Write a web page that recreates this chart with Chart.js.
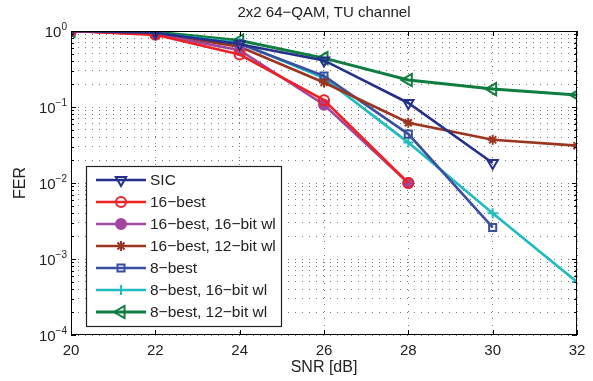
<!DOCTYPE html>
<html lang="en">
<head>
    <meta charset="UTF-8">
    <title>2x2 64-QAM, TU channel</title>
    <script src="https://cdn.jsdelivr.net/npm/chart.js"></script>
    <style>
        html, body {
            margin: 0;
            padding: 0;
            background: #fff;
        }
        #wrap {
            width: 593px;
            height: 381px;
        }
    </style>
</head>
<body>
    <div id="wrap"><canvas id="ferChart" width="593" height="381"></canvas></div>

    <script>
        // SNR points (dB) and x tick labels
        const snr = [20, 22, 24, 26, 28, 30, 32];
        const xTicks = [20, 22, 24, 26, 28, 30, 32];
        // decades shown on the FER axis (10^e)
        const yTickExps = [-4, -3, -2, -1, 0];

        // FER values, null = no point
        const sic        = [1, 0.95, 0.67, 0.41, 0.113, 0.0183, null];
        const best16     = [1, 0.89, 0.49, 0.123, 0.01, null, null];
        const best16wl16 = [1, 0.91, 0.56, 0.107, 0.01, null, null];
        const best16wl12 = [1, 0.92, 0.62, 0.21, 0.062, 0.037, 0.031];
        const best8      = [1, 0.93, 0.68, 0.256, 0.044, 0.0026, null];
        const best8wl16  = [1, 0.94, 0.70, 0.24, 0.034, 0.004, 0.0005];
        const best8wl12  = [1, 0.97, 0.75, 0.44, 0.227, 0.172, 0.144];

        const seriesNames = ['SIC', '16\u2212best', '16\u2212best, 16\u2212bit wl', '16\u2212best, 12\u2212bit wl',
                             '8\u2212best', '8\u2212best, 16\u2212bit wl', '8\u2212best, 12\u2212bit wl'];
        const seriesValues = [sic, best16, best16wl16, best16wl12, best8, best8wl16, best8wl12];

        const styles = [
            { color: '#23318a', pointStyle: 'triangle', rotation: 180, radius: 6, fill: false },
            { color: '#ee2124', pointStyle: 'circle', rotation: 0, radius: 5, fill: false },
            { color: '#a0479e', pointStyle: 'circle', rotation: 0, radius: 5, fill: true },
            { color: '#9a3520', pointStyle: 'star', rotation: 0, radius: 5, fill: false },
            { color: '#3a4f9f', pointStyle: 'rect', rotation: 0, radius: 5, fill: false },
            { color: '#1fbcbf', pointStyle: 'cross', rotation: 0, radius: 5, fill: false },
            { color: '#0e7d3f', pointStyle: 'triangle', rotation: 270, radius: 7, fill: false }
        ];

        function toPoints(values) {
            const pts = [];
            values.forEach(function(v, i) {
                if (v !== null) pts.push({ x: snr[i], y: v });
            });
            return pts;
        }

        const datasets = seriesNames.map(function(name, i) {
            const s = styles[i];
            return {
                label: name,
                data: toPoints(seriesValues[i]),
                borderColor: s.color,
                backgroundColor: s.fill ? s.color : 'rgba(255,255,255,0)',
                borderWidth: i === 6 ? 3 : 2.6,
                pointStyle: s.pointStyle,
                pointRotation: s.rotation,
                pointRadius: s.radius,
                pointBorderWidth: 2,
                pointBorderColor: s.color,
                pointBackgroundColor: s.fill ? s.color : 'rgba(255,255,255,0)',
                tension: 0
            };
        });

        const FONT = '"Liberation Sans", Arial, sans-serif';

        // frame, inward ticks, y labels, titles and the legend inside the plot
        const decorPlugin = {
            id: 'decor',
            afterDraw: function(chart) {
                const ctx = chart.ctx;
                const a = chart.chartArea;
                const xs = chart.scales.x;
                const ys = chart.scales.y;
                ctx.save();

                // box
                ctx.strokeStyle = '#000';
                ctx.lineWidth = 1;
                ctx.setLineDash([]);
                ctx.strokeRect(a.left + 0.5, a.top + 0.5, a.right - a.left - 1, a.bottom - a.top - 1);

                // x ticks (inward, bottom and top)
                ctx.beginPath();
                xTicks.forEach(function(t) {
                    const px = Math.round(xs.getPixelForValue(t)) + 0.5;
                    ctx.moveTo(px, a.bottom); ctx.lineTo(px, a.bottom - 5);
                    ctx.moveTo(px, a.top); ctx.lineTo(px, a.top + 5);
                });
                // y ticks: major 5px, minor 3px, left and right
                yTickExps.forEach(function(e) {
                    for (let m = 1; m <= 9; m++) {
                        if (e === 0 && m > 1) break;
                        const py = Math.round(ys.getPixelForValue(m * Math.pow(10, e))) + 0.5;
                        const len = m === 1 ? 5 : 3;
                        ctx.moveTo(a.left, py); ctx.lineTo(a.left + len, py);
                        ctx.moveTo(a.right, py); ctx.lineTo(a.right - len, py);
                    }
                });
                ctx.stroke();

                // y tick labels 10^e
                ctx.fillStyle = '#222';
                yTickExps.forEach(function(e) {
                    const py = ys.getPixelForValue(Math.pow(10, e));
                    const expText = e < 0 ? '\u2212' + (-e) : String(e);
                    ctx.font = '10px ' + FONT;
                    const ew = ctx.measureText(expText).width;
                    ctx.textAlign = 'left';
                    ctx.textBaseline = 'alphabetic';
                    const right = a.left - 4;
                    ctx.fillText(expText, right - ew, py - 1);
                    ctx.font = '15px ' + FONT;
                    ctx.textAlign = 'right';
                    ctx.fillText('10', right - ew, py + 6);
                });

                // titles
                ctx.fillStyle = '#222';
                ctx.font = '15px ' + FONT;
                ctx.textAlign = 'center';
                ctx.textBaseline = 'middle';
                ctx.fillText('2x2 64\u2212QAM, TU channel', (a.left + a.right) / 2, 13);
                ctx.font = '16px ' + FONT;
                ctx.fillText('SNR [dB]', (a.left + a.right) / 2, 368);
                ctx.save();
                ctx.translate(21, (a.top + a.bottom) / 2);
                ctx.rotate(-Math.PI / 2);
                ctx.fillText('FER', 0, 0);
                ctx.restore();

                // legend box
                const lx = 86, ly = 166, lw = 195, lh = 160;
                ctx.fillStyle = '#fff';
                ctx.fillRect(lx, ly, lw, lh);
                ctx.strokeStyle = '#222';
                ctx.lineWidth = 1.2;
                ctx.strokeRect(lx + 0.5, ly + 0.5, lw, lh);

                chart.data.datasets.forEach(function(ds, i) {
                    const rowY = ly + 14 + i * 22;
                    ctx.strokeStyle = ds.borderColor;
                    ctx.lineWidth = ds.borderWidth;
                    ctx.beginPath();
                    ctx.moveTo(lx + 10, rowY);
                    ctx.lineTo(lx + 60, rowY);
                    ctx.stroke();
                    ctx.fillStyle = ds.pointBackgroundColor;
                    ctx.lineWidth = ds.pointBorderWidth;
                    Chart.helpers.drawPoint(ctx, {
                        pointStyle: ds.pointStyle,
                        rotation: ds.pointRotation,
                        radius: ds.pointRadius,
                        borderWidth: ds.pointBorderWidth
                    }, lx + 35, rowY);
                    ctx.fillStyle = '#222';
                    ctx.font = '15.5px ' + FONT;
                    ctx.textAlign = 'left';
                    ctx.textBaseline = 'middle';
                    ctx.fillText(ds.label, lx + 64, rowY + 1);
                });

                ctx.restore();
            }
        };

        new Chart(document.getElementById('ferChart'), {
            type: 'line',
            data: { datasets: datasets },
            options: {
                responsive: false,
                animation: false,
                layout: { padding: { left: 0, right: 16, top: 31, bottom: 0 } },
                plugins: {
                    legend: { display: false },
                    title: { display: false },
                    tooltip: { enabled: false }
                },
                scales: {
                    x: {
                        type: 'linear',
                        min: 20,
                        max: 32,
                        afterFit: function(scale) { scale.height = 46; },
                        afterBuildTicks: function(scale) {
                            scale.ticks = xTicks.map(function(v) { return { value: v }; });
                        },
                        ticks: {
                            color: '#222',
                            padding: 7,
                            font: { size: 15, family: FONT }
                        },
                        grid: {
                            color: '#777',
                            lineWidth: 1,
                            drawTicks: false
                        },
                        border: { display: false, dash: [1, 6] }
                    },
                    y: {
                        type: 'logarithmic',
                        min: 1e-4,
                        max: 1,
                        afterFit: function(scale) { scale.width = 71; },
                        afterBuildTicks: function(scale) {
                            const t = [];
                            yTickExps.forEach(function(e) {
                                for (let m = 1; m <= 9; m++) {
                                    if (e === 0 && m > 1) break;
                                    t.push({ value: m * Math.pow(10, e) });
                                }
                            });
                            scale.ticks = t;
                        },
                        ticks: { display: false, autoSkip: false },
                        grid: {
                            color: '#777',
                            lineWidth: 1,
                            drawTicks: false
                        },
                        border: { display: false, dash: [1, 6] }
                    }
                }
            },
            plugins: [decorPlugin]
        });
    </script>
</body>
</html>
